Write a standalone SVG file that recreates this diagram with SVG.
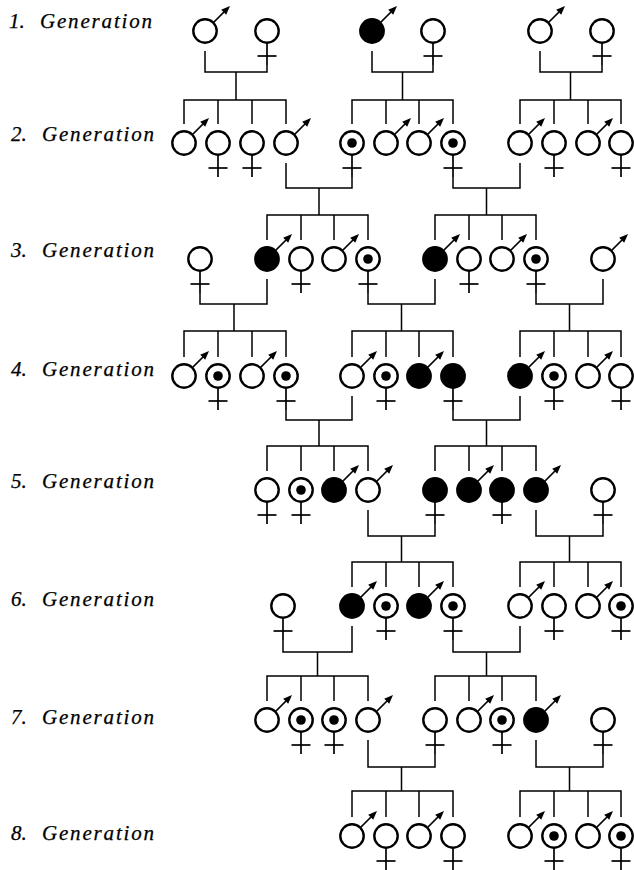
<svg xmlns="http://www.w3.org/2000/svg" xmlns:xlink="http://www.w3.org/1999/xlink" width="634" height="870" viewBox="0 0 634 870">
<style>
.lbl{font-family:"Liberation Serif","Times New Roman",serif;font-style:italic;font-size:21px;fill:#000;stroke:#000;stroke-width:0.25}
.c{stroke:#000;stroke-width:2.4;fill:#fff}
.cf{stroke:#000;stroke-width:2.4;fill:#000}
.ln{stroke:#000;stroke-width:1.7;fill:none}
.conn path{stroke:#000;stroke-width:1.5;fill:none}
</style>
<defs>
<g id="arrow"><line class="ln" x1="8" y1="-8" x2="19" y2="-19"/><polygon points="25,-25 21.2,-16.2 16.2,-21.2" fill="#000"/></g>
<g id="cross"><line class="ln" x1="0" y1="11.5" x2="0" y2="34"/><line class="ln" x1="-9.5" y1="25" x2="9.5" y2="25"/></g>
<g id="male"><use xlink:href="#arrow"/><circle class="c" r="11.7"/></g>
<g id="maleF"><use xlink:href="#arrow"/><circle class="cf" r="11.7"/></g>
<g id="fem"><use xlink:href="#cross"/><circle class="c" r="11.7"/></g>
<g id="femD"><use xlink:href="#cross"/><circle class="c" r="11.7"/><circle r="4.8" fill="#000"/></g>
<g id="femF"><use xlink:href="#cross"/><circle class="cf" r="11.7"/></g>
</defs>
<rect width="634" height="870" fill="#fff"/>

<g id="labels" class="lbl">
<text x="9" y="28">1.</text><text x="40" y="28" textLength="112" lengthAdjust="spacing">Generation</text>
<text x="11" y="141">2.</text><text x="42" y="141" textLength="112" lengthAdjust="spacing">Generation</text>
<text x="11" y="257">3.</text><text x="42" y="257" textLength="112" lengthAdjust="spacing">Generation</text>
<text x="11" y="376">4.</text><text x="42" y="376" textLength="112" lengthAdjust="spacing">Generation</text>
<text x="11" y="488">5.</text><text x="42" y="488" textLength="112" lengthAdjust="spacing">Generation</text>
<text x="11" y="606">6.</text><text x="42" y="606" textLength="112" lengthAdjust="spacing">Generation</text>
<text x="11" y="724">7.</text><text x="42" y="724" textLength="112" lengthAdjust="spacing">Generation</text>
<text x="11" y="840">8.</text><text x="42" y="840" textLength="112" lengthAdjust="spacing">Generation</text>
</g>

<g id="connectors" class="conn">
<path d="M205 51V72H267V65M236 72V100"/>
<path d="M372 51V72H433V65M402.5 72V100"/>
<path d="M540 51V72H602V65M570.5 72V100"/>
<path d="M184 124V100H286V124M218 100V124M252 100V124"/>
<path d="M352 124V100H453V124M386 100V124M419 100V124"/>
<path d="M520 124V100H621V124M554 100V124M588 100V124"/>
<path d="M286 163V188H352V177M319 188V215"/>
<path d="M453 177V188H520V163M486.5 188V215"/>
<path d="M267 240V215H368V240M301 215V240M334 215V240"/>
<path d="M435 240V215H536V240M469 215V240M502 215V240"/>
<path d="M200 293V304H267V279M234 304V331"/>
<path d="M368 293V304H435V279M401.5 304V331"/>
<path d="M536 293V304H603V279M569.5 304V331"/>
<path d="M184 357V331H286V357M218 331V357M252 331V357"/>
<path d="M352 357V331H453V357M386 331V357M419 331V357"/>
<path d="M520 357V331H621V357M554 331V357M588 331V357"/>
<path d="M286 410V420H352V396M319 420V446"/>
<path d="M453 410V420H520V396M486.5 420V446"/>
<path d="M267 471V446H368V471M301 446V471M334 446V471"/>
<path d="M435 471V446H536V471M469 446V471M502 446V471"/>
<path d="M368 510V536H435V524M401.5 536V562"/>
<path d="M536 510V536H603V524M569.5 536V562"/>
<path d="M352 587V562H453V587M386 562V587M419 562V587"/>
<path d="M520 587V562H621V587M554 562V587M588 562V587"/>
<path d="M283 640V652H352V626M317.5 652V676"/>
<path d="M453 640V652H520V626M486.5 652V676"/>
<path d="M267 701V676H368V701M301 676V701M334 676V701"/>
<path d="M435 701V676H536V701M469 676V701M502 676V701"/>
<path d="M368 740V767H435V754M401.5 767V791"/>
<path d="M536 740V767H603V754M569.5 767V791"/>
<path d="M352 817V791H453V817M386 791V817M419 791V817"/>
<path d="M520 817V791H621V817M554 791V817M588 791V817"/>
</g>

<g id="g1-1" transform="translate(205,31)"><use xlink:href="#male"/></g>
<g id="g1-2" transform="translate(267,31)"><use xlink:href="#fem"/></g>
<g id="g1-3" transform="translate(372,31)"><use xlink:href="#maleF"/></g>
<g id="g1-4" transform="translate(433,31)"><use xlink:href="#fem"/></g>
<g id="g1-5" transform="translate(540,31)"><use xlink:href="#male"/></g>
<g id="g1-6" transform="translate(602,31)"><use xlink:href="#fem"/></g>

<g id="g2-1" transform="translate(184,143)"><use xlink:href="#male"/></g>
<g id="g2-2" transform="translate(218,143)"><use xlink:href="#fem"/></g>
<g id="g2-3" transform="translate(252,143)"><use xlink:href="#fem"/></g>
<g id="g2-4" transform="translate(286,143)"><use xlink:href="#male"/></g>
<g id="g2-5" transform="translate(352,143)"><use xlink:href="#femD"/></g>
<g id="g2-6" transform="translate(386,143)"><use xlink:href="#male"/></g>
<g id="g2-7" transform="translate(419,143)"><use xlink:href="#male"/></g>
<g id="g2-8" transform="translate(453,143)"><use xlink:href="#femD"/></g>
<g id="g2-9" transform="translate(520,143)"><use xlink:href="#male"/></g>
<g id="g2-10" transform="translate(554,143)"><use xlink:href="#fem"/></g>
<g id="g2-11" transform="translate(588,143)"><use xlink:href="#male"/></g>
<g id="g2-12" transform="translate(621,143)"><use xlink:href="#fem"/></g>

<g id="g3-1" transform="translate(200,259)"><use xlink:href="#fem"/></g>
<g id="g3-2" transform="translate(267,259)"><use xlink:href="#maleF"/></g>
<g id="g3-3" transform="translate(301,259)"><use xlink:href="#fem"/></g>
<g id="g3-4" transform="translate(334,259)"><use xlink:href="#male"/></g>
<g id="g3-5" transform="translate(368,259)"><use xlink:href="#femD"/></g>
<g id="g3-6" transform="translate(435,259)"><use xlink:href="#maleF"/></g>
<g id="g3-7" transform="translate(469,259)"><use xlink:href="#fem"/></g>
<g id="g3-8" transform="translate(502,259)"><use xlink:href="#male"/></g>
<g id="g3-9" transform="translate(536,259)"><use xlink:href="#femD"/></g>
<g id="g3-10" transform="translate(603,259)"><use xlink:href="#male"/></g>

<g id="g4-1" transform="translate(184,376)"><use xlink:href="#male"/></g>
<g id="g4-2" transform="translate(218,376)"><use xlink:href="#femD"/></g>
<g id="g4-3" transform="translate(252,376)"><use xlink:href="#male"/></g>
<g id="g4-4" transform="translate(286,376)"><use xlink:href="#femD"/></g>
<g id="g4-5" transform="translate(352,376)"><use xlink:href="#male"/></g>
<g id="g4-6" transform="translate(386,376)"><use xlink:href="#femD"/></g>
<g id="g4-7" transform="translate(419,376)"><use xlink:href="#maleF"/></g>
<g id="g4-8" transform="translate(453,376)"><use xlink:href="#femF"/></g>
<g id="g4-9" transform="translate(520,376)"><use xlink:href="#maleF"/></g>
<g id="g4-10" transform="translate(554,376)"><use xlink:href="#femD"/></g>
<g id="g4-11" transform="translate(588,376)"><use xlink:href="#male"/></g>
<g id="g4-12" transform="translate(621,376)"><use xlink:href="#fem"/></g>

<g id="g5-1" transform="translate(267,490)"><use xlink:href="#fem"/></g>
<g id="g5-2" transform="translate(301,490)"><use xlink:href="#femD"/></g>
<g id="g5-3" transform="translate(334,490)"><use xlink:href="#maleF"/></g>
<g id="g5-4" transform="translate(368,490)"><use xlink:href="#male"/></g>
<g id="g5-5" transform="translate(435,490)"><use xlink:href="#femF"/></g>
<g id="g5-6" transform="translate(469,490)"><use xlink:href="#maleF"/></g>
<g id="g5-7" transform="translate(502,490)"><use xlink:href="#femF"/></g>
<g id="g5-8" transform="translate(536,490)"><use xlink:href="#maleF"/></g>
<g id="g5-9" transform="translate(603,490)"><use xlink:href="#fem"/></g>

<g id="g6-1" transform="translate(283,606)"><use xlink:href="#fem"/></g>
<g id="g6-2" transform="translate(352,606)"><use xlink:href="#maleF"/></g>
<g id="g6-3" transform="translate(386,606)"><use xlink:href="#femD"/></g>
<g id="g6-4" transform="translate(419,606)"><use xlink:href="#maleF"/></g>
<g id="g6-5" transform="translate(453,606)"><use xlink:href="#femD"/></g>
<g id="g6-6" transform="translate(520,606)"><use xlink:href="#male"/></g>
<g id="g6-7" transform="translate(554,606)"><use xlink:href="#fem"/></g>
<g id="g6-8" transform="translate(588,606)"><use xlink:href="#male"/></g>
<g id="g6-9" transform="translate(621,606)"><use xlink:href="#femD"/></g>

<g id="g7-1" transform="translate(267,720)"><use xlink:href="#male"/></g>
<g id="g7-2" transform="translate(301,720)"><use xlink:href="#femD"/></g>
<g id="g7-3" transform="translate(334,720)"><use xlink:href="#femD"/></g>
<g id="g7-4" transform="translate(368,720)"><use xlink:href="#male"/></g>
<g id="g7-5" transform="translate(435,720)"><use xlink:href="#fem"/></g>
<g id="g7-6" transform="translate(469,720)"><use xlink:href="#male"/></g>
<g id="g7-7" transform="translate(502,720)"><use xlink:href="#femD"/></g>
<g id="g7-8" transform="translate(536,720)"><use xlink:href="#maleF"/></g>
<g id="g7-9" transform="translate(603,720)"><use xlink:href="#fem"/></g>

<g id="g8-1" transform="translate(352,836)"><use xlink:href="#male"/></g>
<g id="g8-2" transform="translate(386,836)"><use xlink:href="#fem"/></g>
<g id="g8-3" transform="translate(419,836)"><use xlink:href="#male"/></g>
<g id="g8-4" transform="translate(453,836)"><use xlink:href="#fem"/></g>
<g id="g8-5" transform="translate(520,836)"><use xlink:href="#male"/></g>
<g id="g8-6" transform="translate(554,836)"><use xlink:href="#femD"/></g>
<g id="g8-7" transform="translate(588,836)"><use xlink:href="#male"/></g>
<g id="g8-8" transform="translate(621,836)"><use xlink:href="#femD"/></g>
</svg>
